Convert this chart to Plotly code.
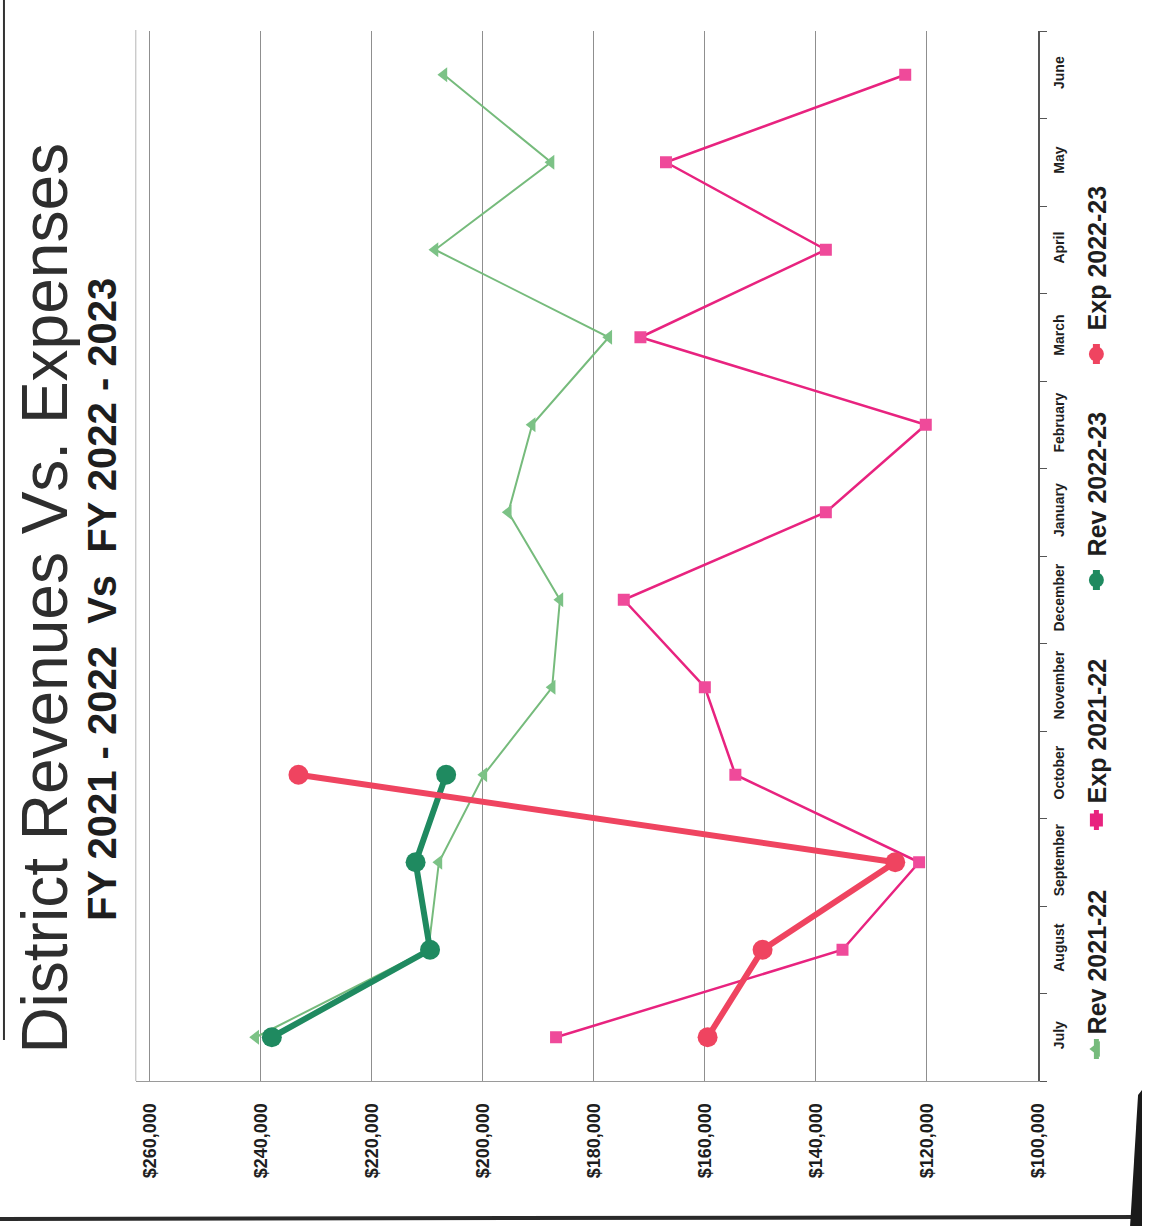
import plotly.graph_objects as go

# ---- data ----------------------------------------------------------------
months = ["July", "August", "September", "October", "November", "December",
          "January", "February", "March", "April", "May", "June"]

rev_2021_22 = [240900, 209800, 207900, 199800, 187500, 186100,
               195400, 191100, 177300, 208600, 187700, 207000]
exp_2021_22 = [186800, 135200, 121400, 154500, 160000, 174600,
               138200, 120200, 171600, 138200, 167000, 123900]
rev_2022_23 = [238000, 209500, 212100, 206600]
exp_2022_23 = [159500, 149600, 125700, 233200]

value_ticks = [260000, 240000, 220000, 200000, 180000, 160000, 140000, 120000, 100000]
value_tick_labels = ["$260,000", "$240,000", "$220,000", "$200,000", "$180,000",
                     "$160,000", "$140,000", "$120,000", "$100,000"]

series_names = ["Rev 2021-22", "Exp 2021-22", "Rev 2022-23", "Exp 2022-23"]

# ---- page geometry (the chart is printed sideways) -----------------------
W, H = 1152, 1226


def px(x):
    return x / W


def py(y):
    return 1 - y / H


SANS = "Liberation Sans, Arial, Helvetica, sans-serif"

C_REV1 = "#76bb7c"
C_EXP1 = "#e8237f"
C_REV2 = "#1f8a60"
C_EXP2 = "#ef4460"

fig = go.Figure()

fig.add_trace(go.Scatter(
    x=rev_2021_22, y=months, mode="lines+markers", name=series_names[0],
    line=dict(color=C_REV1, width=2),
    marker=dict(symbol="triangle-left", size=13, color="#7cc286"),
    cliponaxis=False))
fig.add_trace(go.Scatter(
    x=exp_2021_22, y=months, mode="lines+markers", name=series_names[1],
    line=dict(color=C_EXP1, width=2.5),
    marker=dict(symbol="square", size=12, color="#ef4a9a"),
    cliponaxis=False))
fig.add_trace(go.Scatter(
    x=rev_2022_23, y=months[:len(rev_2022_23)], mode="lines+markers", name=series_names[2],
    line=dict(color=C_REV2, width=6),
    marker=dict(symbol="circle", size=20, color=C_REV2),
    cliponaxis=False))
fig.add_trace(go.Scatter(
    x=exp_2022_23, y=months[:len(exp_2022_23)], mode="lines+markers", name=series_names[3],
    line=dict(color=C_EXP2, width=6),
    marker=dict(symbol="circle", size=20, color=C_EXP2),
    cliponaxis=False))

# ---- sideways legend: swatches drawn on a full-page pixel grid -----------
legend_items = [
    (series_names[0], C_REV1, "triangle-left", 14, 3, 1049, 962),
    (series_names[1], C_EXP1, "square", 13, 3, 820, 731),
    (series_names[2], C_REV2, "circle", 15, 5, 580, 484),
    (series_names[3], C_EXP2, "circle", 15, 5, 354, 258),
]
LEG_X = 1106
for name, color, sym, msize, lw, sy, ty in legend_items:
    fig.add_trace(go.Scatter(
        x=[LEG_X, LEG_X], y=[sy + 10, sy - 10], xaxis="x2", yaxis="y2",
        mode="lines", line=dict(color=color, width=lw + 2),
        showlegend=False, hoverinfo="skip", cliponaxis=False))
    fig.add_trace(go.Scatter(
        x=[LEG_X], y=[sy], xaxis="x2", yaxis="y2", mode="markers",
        marker=dict(symbol=sym, size=msize, color=color),
        showlegend=False, hoverinfo="skip", cliponaxis=False))

annotations = [
    dict(text="District Revenues Vs. Expenses", x=px(45), y=py(598),
         font=dict(family=SANS, size=64, color="#2e2e2e")),
    dict(text="<b>FY 2021 - 2022  Vs  FY 2022 - 2023</b>", x=px(103), y=py(600),
         font=dict(family=SANS, size=40, color="#1e1e1e")),
]
for name, color, sym, msize, lw, sy, ty in legend_items:
    annotations.append(dict(text=f"<b>{name}</b>", x=px(LEG_X + 1), y=py(ty),
                            font=dict(family=SANS, size=25, color="#1e1e1e")))
for a in annotations:
    a.update(xref="paper", yref="paper", xanchor="center", yanchor="middle",
             textangle=-90, showarrow=False)

# ---- frame and page edges --------------------------------------------------
shapes = [
    dict(type="line", xref="paper", yref="paper", x0=px(137), x1=px(137),
         y0=py(30), y1=py(1081), line=dict(color="#b5b5b5", width=1)),
    dict(type="line", xref="paper", yref="paper", x0=px(0), x1=px(1152),
         y0=py(1219), y1=py(1217), line=dict(color="#2a2a2a", width=4)),
    dict(type="line", xref="paper", yref="paper", x0=px(4), x1=px(4),
         y0=py(0), y1=py(1040), line=dict(color="#333333", width=2)),
    dict(type="path", xref="paper", yref="paper",
         path=f"M {px(1140)} {py(1226)} L {px(1148)} {py(1095)} L {px(1152)} {py(1090)} "
              f"L {px(1152)} {py(1226)} Z",
         fillcolor="#1a1a1a", line=dict(width=0)),
]

fig.update_layout(
    width=W, height=H,
    margin=dict(l=0, r=0, t=0, b=0),
    paper_bgcolor="white", plot_bgcolor="rgba(0,0,0,0)",
    showlegend=False,
    xaxis=dict(
        domain=[px(137), px(1047)],
        range=[262500, 100000],
        tickvals=value_ticks, ticktext=value_tick_labels,
        tickangle=-90, ticks="", ticklabelstandoff=14,
        tickfont=dict(family=SANS, size=18, color="#1e1e1e", weight="bold"),
        showgrid=True, gridcolor="#8f8f8f", gridwidth=1,
        showline=True, linecolor="#9a9a9a", linewidth=1,
        zeroline=False, anchor="y"),
    yaxis=dict(
        domain=[py(1081), py(31)],
        type="category", categoryorder="array", categoryarray=months,
        range=[-0.5, 11.5],
        side="right", tickangle=-90, tickson="boundaries",
        ticks="outside", ticklen=7, tickcolor="#555555", ticklabelstandoff=8,
        tickfont=dict(family=SANS, size=14, color="#1e1e1e", weight="bold"),
        showgrid=False, showline=True, linecolor="#555555", linewidth=1.5,
        zeroline=False, anchor="x"),
    xaxis2=dict(domain=[0, 1], range=[0, W], visible=False, anchor="y2"),
    yaxis2=dict(domain=[0, 1], range=[H, 0], visible=False, anchor="x2"),
    annotations=annotations,
    shapes=shapes,
)

fig.write_html("out.html")
